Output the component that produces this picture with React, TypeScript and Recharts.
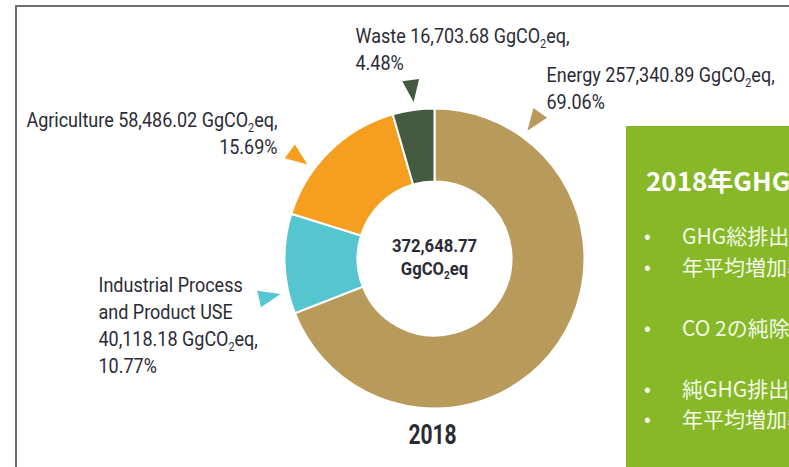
// Donut of 2018 GHG emissions by sector, with callout triangles and a green summary panel.
import React from 'react'
import { PieChart, Pie, Cell } from 'recharts'

const categories = ['Energy', 'Industrial Process and Product USE', 'Agriculture', 'Waste']
const emissions = [257340.89, 40118.18, 58486.02, 16703.68]
const shares = [69.06, 10.77, 15.69, 4.48]
const totalEmission = 372648.77
const yearLabel = '2018'

const panelTitle = '2018年GHG排出量'
const panelBullets = ['GHG総排出量', '年平均増加率', '', 'CO 2の純除去量', '', '純GHG排出量', '年平均増加率']

const colors = ['#B89B5B', '#55C5CF', '#F59E1F', '#435A40']
const TEXT = '#2b2b35'
const FONT = "Roboto, 'DejaVu Sans', sans-serif"
const SQUEEZE = 0.9 // the source uses a condensed face

const CX = 434.5
const CY = 258.5
const OUTER = 150
const INNER = 77

// callout placement per slice: triangle angle (deg) and text anchor offset from the centre
const calloutLayout: Record<string, { angle: number; dx: number; dy: number; anchor: 'start' | 'end' }> = {
  Energy: { angle: 54, dx: 112, dy: -177, anchor: 'start' },
  'Industrial Process and Product USE': { angle: 193, dx: -336, dy: 33, anchor: 'start' },
  Agriculture: { angle: 143.5, dx: -157, dy: -132, anchor: 'end' },
  Waste: { angle: 97.6, dx: -79, dy: -216, anchor: 'start' },
}

const fmt = (v: number) => v.toLocaleString('en-US', { minimumFractionDigits: 2, maximumFractionDigits: 2 })

const data = categories.map((name, i) => ({ name, value: emissions[i], share: shares[i] }))

function calloutLines(name: string, value: number, share: number): string[] {
  const amount = `${fmt(value)} GgCO₂eq,`
  if (name === 'Industrial Process and Product USE') {
    return ['Industrial Process', 'and Product USE', amount, `${share.toFixed(2)}%`]
  }
  return [`${name} ${amount}`, `${share.toFixed(2)}%`]
}

// renders "…CO₂eq" with a real subscript
function Rich({ line, size }: { line: string; size: number }) {
  const [a, b] = line.split('₂')
  if (b === undefined) return <>{a}</>
  return (
    <>
      {a}
      <tspan fontSize={size * 0.6} dy={size * 0.25}>2</tspan>
      <tspan dy={-size * 0.25}>{b}</tspan>
    </>
  )
}

function SqText({ x, y, size, weight = 400, anchor = 'start', sq = SQUEEZE, children }: any) {
  return (
    <text
      transform={`translate(${x},${y}) scale(${sq},1)`}
      textAnchor={anchor}
      fontFamily={FONT}
      fontSize={size}
      fontWeight={weight}
      fill={TEXT}
    >
      {children}
    </text>
  )
}

const RAD = Math.PI / 180

function renderCallout(props: any) {
  const { cx, cy, outerRadius, index } = props
  const name = categories[index]
  const lay = calloutLayout[name]
  const a = lay.angle * RAD
  const ux = Math.cos(a), uy = -Math.sin(a)
  const tipR = outerRadius + 8
  const baseR = outerRadius + 30
  const half = 8.5
  const tip = [cx + ux * tipR, cy + uy * tipR]
  const bx = cx + ux * baseR, by = cy + uy * baseR
  const p1 = [bx - uy * half, by + ux * half]
  const p2 = [bx + uy * half, by - ux * half]
  const lines = calloutLines(name, emissions[index], shares[index])
  const size = 20
  return (
    <g key={`callout-${index}`}>
      <polygon points={`${tip.join(',')} ${p1.join(',')} ${p2.join(',')}`} fill={colors[index]} />
      {lines.map((ln, k) => (
        <SqText key={k} x={cx + lay.dx} y={cy + lay.dy + k * 27} size={size} anchor={lay.anchor}>
          <Rich line={ln} size={size} />
        </SqText>
      ))}
    </g>
  )
}

export default function App() {
  return (
    <div style={{ position: 'fixed', left: 0, top: 0, width: 789, height: 467, overflow: 'hidden', background: '#fff' }}>
      <div style={{ position: 'absolute', left: 0, top: 0 }}>
        <PieChart width={789} height={467} margin={{ top: 0, right: 0, bottom: 0, left: 0 }}>
          <Pie
            data={data}
            dataKey="value"
            nameKey="name"
            cx={CX}
            cy={CY}
            innerRadius={INNER}
            outerRadius={OUTER}
            startAngle={90}
            endAngle={-270}
            stroke="#ffffff"
            strokeWidth={2}
            label={renderCallout}
            labelLine={false}
            isAnimationActive={false}
          >
            {data.map((d, i) => (
              <Cell key={d.name} fill={colors[i]} />
            ))}
          </Pie>
        </PieChart>
      </div>
      <svg width={789} height={467} style={{ position: 'absolute', left: 0, top: 0, pointerEvents: 'none' }}>
        <SqText x={CX} y={CY - 7} size={18.5} weight={700} anchor="middle">
          {fmt(totalEmission)}
        </SqText>
        <SqText x={CX} y={CY + 16} size={18.5} weight={700} anchor="middle">
          <Rich line="GgCO₂eq" size={18.5} />
        </SqText>
        <SqText x={CX - 2} y={CY + OUTER + 35} size={28} weight={700} anchor="middle" sq={0.75}>
          {yearLabel}
        </SqText>
      </svg>
      {/* frame lines of the slide */}
      <div style={{ position: 'absolute', left: 15, top: 5, width: 790, height: 2, background: '#6f6f6f' }} />
      <div style={{ position: 'absolute', left: 15, top: 5, width: 2, height: 470, background: '#6f6f6f' }} />
      <div
        style={{
          position: 'absolute', left: 626, top: 126, width: 400, height: 360,
          background: '#86B828', color: '#f3f8e6',
          fontFamily: "'Noto Sans CJK JP', 'Noto Sans', sans-serif", whiteSpace: 'nowrap',
        }}
      >
        <div style={{ position: 'absolute', left: 20, top: 36, fontSize: 26, fontWeight: 700, lineHeight: '36px', color: '#ffffff' }}>
          {panelTitle}
        </div>
        <div style={{ position: 'absolute', left: 18, top: 94, fontSize: 21, lineHeight: '30.5px' }}>
          {panelBullets.map((b, i) => (
            <div key={i} style={{ height: 30.5, display: 'flex' }}>
              {b ? <span style={{ width: 38, fontSize: 20 }}>•</span> : null}
              <span>{b}</span>
            </div>
          ))}
        </div>
      </div>
    </div>
  )
}
